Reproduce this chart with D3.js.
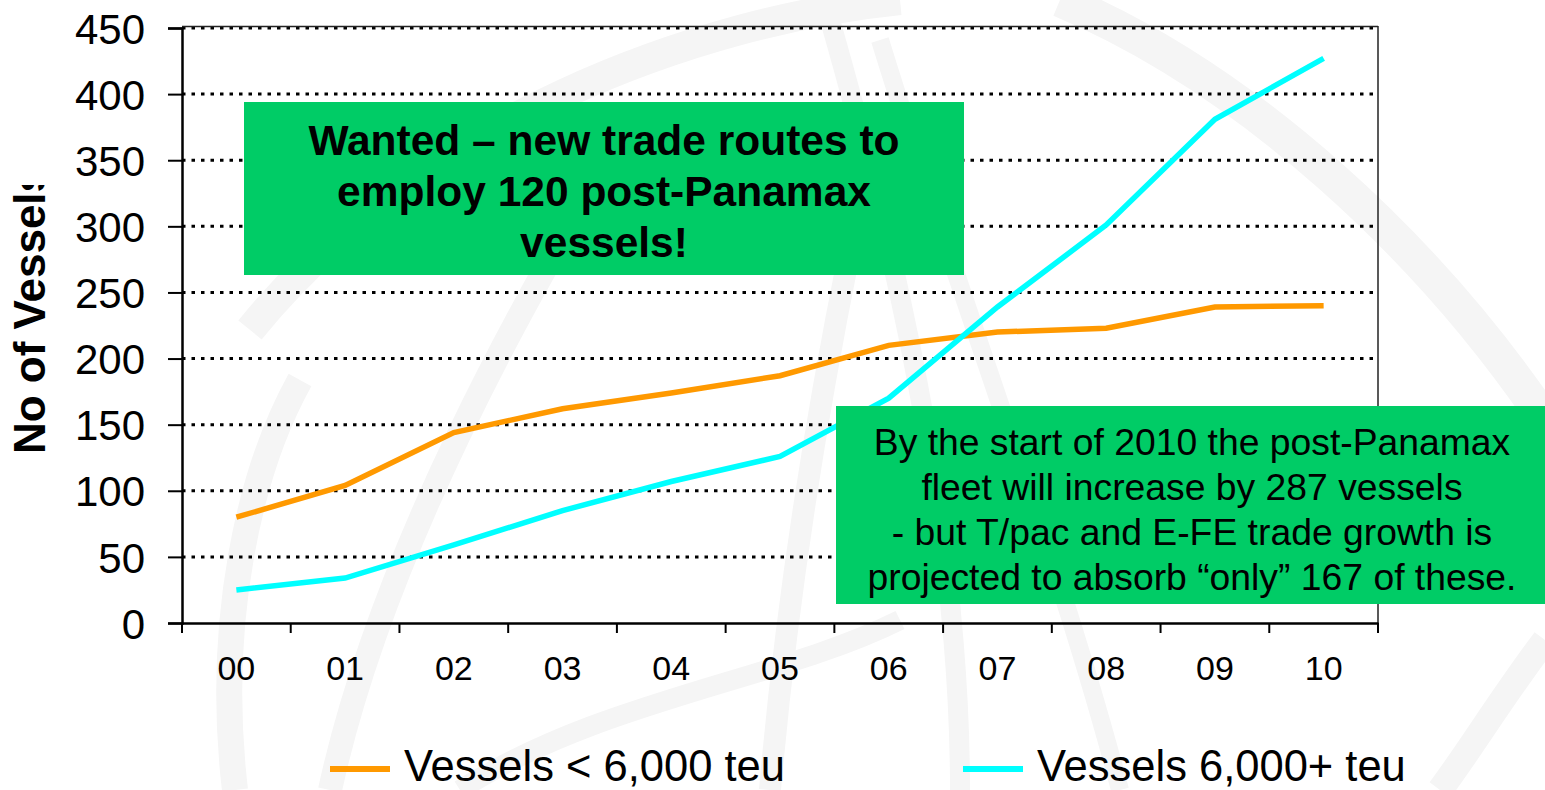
<!DOCTYPE html>
<html><head><meta charset="utf-8">
<script src="https://cdn.jsdelivr.net/npm/d3@7"></script>
<style>body{margin:0;background:#fff}svg{display:block;font-family:"Liberation Sans",Arial,sans-serif}</style>
</head><body>
<svg id="c" width="1545" height="790"></svg>
<script>
const years = ["00","01","02","03","04","05","06","07","08","09","10"];
const seriesNames = ["Vessels < 6,000 teu","Vessels 6,000+ teu"];
const smallVessels = [80,104,144,162,174,187,210,220,223,239,240];
const largeVessels = [25,34,59,85,107,126,170,239,301,381,427];
const yTicks = [0,50,100,150,200,250,300,350,400,450];
const colors = ["#ff9900","#00ffff"];
const note1 = ["Wanted – new trade routes to","employ 120 post-Panamax","vessels!"];
const note2 = ["By the start of 2010 the post-Panamax","fleet will increase by 287 vessels","- but T/pac and E-FE trade growth is","projected to absorb “only” 167 of these."];

const svg = d3.select("#c");
const L=182,R=1378,T=28,B=623;

// faint watermark swooshes
const wm = svg.append("g").attr("fill","none").attr("stroke","#f5f5f5");
wm.append("path").attr("d","M235,790 C215,620 250,470 300,380").attr("stroke-width",26);
wm.append("path").attr("d","M250,330 C420,120 700,20 900,0").attr("stroke-width",30);
wm.append("path").attr("d","M1060,0 C1250,80 1430,250 1545,420").attr("stroke-width",34);
wm.append("path").attr("d","M330,790 C380,560 520,300 640,110").attr("stroke-width",24);
wm.append("path").attr("d","M770,790 C790,560 830,330 880,110").attr("stroke-width",22);
wm.append("path").attr("d","M960,790 C960,560 910,300 830,20").attr("stroke-width",20);
wm.append("path").attr("d","M1120,790 C1060,560 960,300 880,40").attr("stroke-width",18);
wm.append("path").attr("d","M1545,640 C1500,700 1470,750 1440,790").attr("stroke-width",26);
wm.append("path").attr("d","M460,790 C600,700 780,680 900,620").attr("stroke-width",20);

const x = d3.scaleBand().domain(years).range([L,R]);
const y = d3.scaleLinear().domain([0,450]).range([B,T]);

// gridlines
svg.append("g").selectAll("line").data(yTicks.filter(d=>d>0)).join("line")
  .attr("x1",L).attr("x2",R).attr("y1",d=>y(d)).attr("y2",d=>y(d))
  .attr("stroke","#000").attr("stroke-width",3).attr("stroke-dasharray","3.5,6");

// plot border top/right
svg.append("line").attr("x1",L).attr("x2",R).attr("y1",T-1.5).attr("y2",T-1.5).attr("stroke","#222").attr("stroke-width",1.5);
svg.append("line").attr("x1",R).attr("x2",R).attr("y1",T-2).attr("y2",B).attr("stroke","#222").attr("stroke-width",1.5);

// y axis
const ya = svg.append("g").attr("transform",`translate(${L},0)`)
  .call(d3.axisLeft(y).tickValues(yTicks).tickSize(14).tickPadding(36));
ya.select(".domain").attr("stroke","#000").attr("stroke-width",2.5);
ya.selectAll(".tick line").attr("stroke","#000").attr("stroke-width",2);
ya.selectAll(".tick text").attr("font-size",42).attr("fill","#000").attr("font-family","Liberation Sans, Arial, sans-serif")
  .attr("text-anchor","end").attr("x",-37).attr("dy","0.36em");

// x axis
const xa = svg.append("g").attr("transform",`translate(0,${B})`)
  .call(d3.axisBottom(x).tickSize(0).tickPadding(33));
xa.select(".domain").attr("stroke","#000").attr("stroke-width",2.5);
xa.selectAll(".tick text").attr("font-size",34).attr("fill","#000").attr("font-family","Liberation Sans, Arial, sans-serif");
svg.append("g").selectAll("line").data(years.concat(["end"])).join("line")
  .attr("x1",(d,i)=>L+i*x.step()).attr("x2",(d,i)=>L+i*x.step())
  .attr("y1",B).attr("y2",B+10).attr("stroke","#000").attr("stroke-width",2);

// y title (clipped at the top like the reference)
svg.append("clipPath").attr("id","tc").append("rect").attr("x",0).attr("y",185).attr("width",80).attr("height",400);
svg.append("g").attr("clip-path","url(#tc)").append("text")
  .attr("transform","translate(45,311) rotate(-90)").attr("text-anchor","middle")
  .attr("font-size",44).attr("font-weight","bold").text("No of Vessels");

// lines
const line = d3.line().x((d,i)=>x(years[i])+x.bandwidth()/2).y(d=>y(d));
[smallVessels,largeVessels].forEach((s,k)=>{
  svg.append("path").datum(s).attr("d",line).attr("fill","none")
    .attr("stroke",colors[k]).attr("stroke-width",5.5).attr("stroke-linejoin","miter");
});

// note boxes
svg.append("rect").attr("x",244).attr("y",102).attr("width",720).attr("height",173).attr("fill","#00cc66");
svg.append("text").attr("text-anchor","middle").attr("font-size",42.5).attr("font-weight","bold")
  .selectAll("tspan").data(note1).join("tspan").attr("x",604).attr("y",(d,i)=>155+i*51).text(d=>d);

svg.append("rect").attr("x",836).attr("y",406).attr("width",709).attr("height",198).attr("fill","#00cc66");
svg.append("text").attr("text-anchor","middle").attr("font-size",37.3)
  .selectAll("tspan").data(note2).join("tspan").attr("x",1192).attr("y",(d,i)=>455+i*45).text(d=>d);

// legend
const lg = [{x:330,tx:404},{x:963,tx:1037}];
lg.forEach((p,k)=>{
  svg.append("line").attr("x1",p.x).attr("x2",p.x+60).attr("y1",769).attr("y2",769).attr("stroke",colors[k]).attr("stroke-width",6);
  svg.append("text").attr("x",p.tx).attr("y",781).attr("font-size",43.5).text(seriesNames[k]);
});
</script>
</body></html>
